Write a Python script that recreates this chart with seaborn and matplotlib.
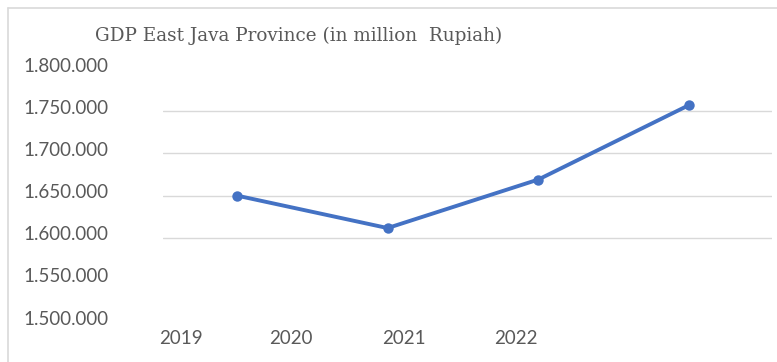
import matplotlib
matplotlib.use("Agg")
import matplotlib.pyplot as plt
import seaborn as sns
import pandas as pd
from matplotlib.lines import Line2D
from matplotlib.transforms import ScaledTranslation

# ---- data ----
years = ["2019", "2020", "2021", "2022"]
gdp = [1649895, 1611392, 1668946, 1757227]
y_ticks = [1500000, 1550000, 1600000, 1650000, 1700000, 1750000, 1800000]
grid_values = [1600000, 1650000, 1700000, 1750000]
title = "GDP East Java Province (in million  Rupiah)"

def fmt(v):
    return f"{v:,}".replace(",", ".")

df = pd.DataFrame({"pos": range(len(years)), "gdp": gdp})

sns.set_theme(style="white")
plt.rcParams["font.family"] = ["Lato", "DejaVu Sans"]

W, H = 777, 362
fig = plt.figure(figsize=(W / 100, H / 100), dpi=100)
fig.patch.set_facecolor("white")

left, right = 163 / W, 772 / W
bottom, top = (H - 322) / H, (H - 69) / H
ax = fig.add_axes([left, bottom, right - left, top - bottom])

for g in grid_values:
    ax.axhline(g, color="#d9d9d9", lw=1.0, zorder=0)

sns.lineplot(data=df, x="pos", y="gdp", ax=ax, color="#4472c4", lw=2.8,
             marker="o", markersize=7.5, markeredgewidth=0, zorder=3)

ax.set_xlim(-0.49, 3.55)
ax.set_ylim(1500000, 1800000)
ax.set_yticks(y_ticks)
ax.set_yticklabels([fmt(v) for v in y_ticks])
# year labels sit left of the points in the reference
label_pos = [-0.372, 0.358, 1.108, 1.851]
ax.set_xticks(label_pos)
ax.set_xticklabels(years)
ax.set_xlabel("")
ax.set_ylabel("")
for s in ax.spines.values():
    s.set_visible(False)
ax.tick_params(axis="y", length=0, pad=39, labelsize=13.5, colors="#595959")
ax.tick_params(axis="x", length=0, pad=6, labelsize=13.5, colors="#595959")
shift = ScaledTranslation(0, 3 / 100, fig.dpi_scale_trans)
for t in ax.get_yticklabels():
    t.set_va("center")
    t.set_transform(t.get_transform() + shift)

fig.text(95 / W, 1 - 36 / H, title, fontsize=13.2, color="#595959",
         family=["DejaVu Serif"], ha="left", va="center")

# chart frame (top and left edges)
fig.add_artist(Line2D([8 / W, 1], [1 - 8 / H, 1 - 8 / H], transform=fig.transFigure, color="#d9d9d9", lw=1.2))
fig.add_artist(Line2D([8 / W, 8 / W], [0, 1 - 8 / H], transform=fig.transFigure, color="#d9d9d9", lw=1.2))

fig.savefig("out.png", dpi=100, facecolor="white")
